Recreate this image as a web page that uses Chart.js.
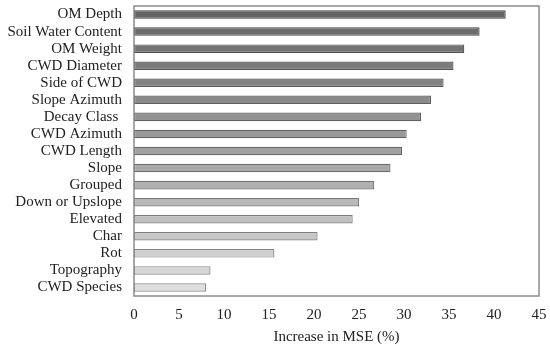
<!DOCTYPE html>
<html>
<head>
<meta charset="utf-8">
<script src="https://cdn.jsdelivr.net/npm/chart.js@4"></script>
<style>
  body { margin: 0; background: #fff; }
</style>
</head>
<body>
<canvas id="mse" width="550" height="346"></canvas>
<script>
// variable importance
const variables = ['OM Depth', 'Soil Water Content', 'OM Weight', 'CWD Diameter', 'Side of CWD',
  'Slope Azimuth', 'Decay Class ', 'CWD Azimuth', 'CWD Length', 'Slope', 'Grouped',
  'Down or Upslope', 'Elevated', 'Char', 'Rot', 'Topography', 'CWD Species'];
const mseIncrease = [41.3, 38.4, 36.7, 35.5, 34.4, 33.0, 31.9, 30.3, 29.8, 28.5, 26.7,
  25.0, 24.3, 20.4, 15.6, 8.5, 8.0];
const xTicks = [0, 5, 10, 15, 20, 25, 30, 35, 40, 45];

// fill goes from dark grey at the top to light grey at the bottom
const fills = variables.map((v, i) => {
  const g = Math.round(100 + i * (222 - 100) / (variables.length - 1));
  return 'rgb(' + g + ',' + g + ',' + g + ')';
});
const edges = variables.map((v, i) => {
  const g = Math.round(70 + i * (140 - 70) / (variables.length - 1));
  return 'rgb(' + g + ',' + g + ',' + g + ')';
});

const boxPlugin = {
  id: 'box',
  afterDraw(chart) {
    const a = chart.chartArea;
    const ctx = chart.ctx;
    ctx.save();
    ctx.strokeStyle = '#8c8c8c';
    ctx.lineWidth = 1.5;
    ctx.strokeRect(a.left, a.top, a.right - a.left, a.bottom - a.top);
    ctx.restore();
  }
};

const font = { family: '"Liberation Serif", "Times New Roman", serif', size: 15 };

new Chart(document.getElementById('mse'), {
  type: 'bar',
  data: {
    labels: variables,
    datasets: [{
      data: mseIncrease,
      backgroundColor: fills,
      borderColor: edges,
      borderWidth: 1.2,
      borderSkipped: false,
      categoryPercentage: 1,
      barPercentage: 0.5
    }]
  },
  options: {
    indexAxis: 'y',
    responsive: false,
    animation: false,
    layout: { padding: { top: 6, right: 11, left: 0, bottom: 0 } },
    plugins: { legend: { display: false }, tooltip: { enabled: false } },
    scales: {
      x: {
        min: 0,
        max: 45,
        afterBuildTicks(scale) { scale.ticks = xTicks.map(v => ({ value: v })); },
        afterFit(scale) { scale.height = 50; scale.paddingLeft = 0; scale.paddingRight = 0; },
        grid: { display: false, drawTicks: false },
        border: { display: false },
        ticks: { color: '#222', font: font, padding: 10 },
        title: { display: true, text: 'Increase in MSE (%)', color: '#222', font: { family: font.family, size: 15 }, padding: { top: 1, bottom: 0 } }
      },
      y: {
        afterFit(scale) { scale.width = 134; scale.paddingTop = 0; scale.paddingBottom = 0; },
        grid: { display: false, drawTicks: false },
        border: { display: false },
        ticks: { color: '#222', font: font, padding: 12, autoSkip: false }
      }
    }
  },
  plugins: [boxPlugin]
});
</script>
</body>
</html>
